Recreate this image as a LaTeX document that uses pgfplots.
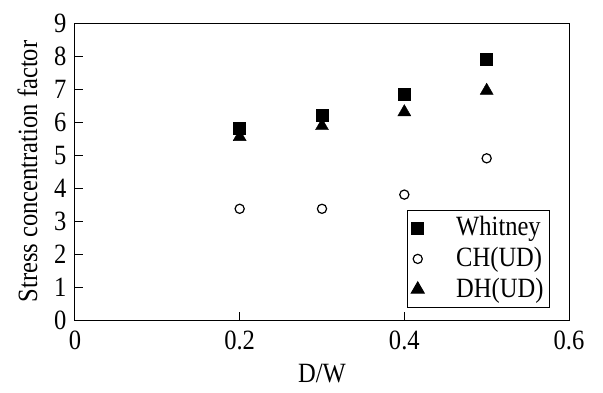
\documentclass[border=0pt]{standalone}
\usepackage{pgfplots}
\pgfplotsset{compat=1.18}
\usepackage{fontspec}
\setmainfont{Liberation Serif}[FakeStretch=0.88]
\begin{document}
\fontsize{28}{30}\selectfont
\begin{tikzpicture}
\begin{axis}[
  name=ax,
  at={(0,0)}, anchor=south west,
  scale only axis,
  width=494bp, height=297bp,
  xmin=0, xmax=0.6, ymin=0, ymax=9,
  xtick={0,0.2,0.4,0.6},
  xticklabels={0,0.2,0.4,0.6},
  ytick={0,1,...,9},
  xtick pos=bottom, ytick pos=left,
  tick align=inside,
  major tick length=8bp,
  axis line style={line width=1bp},
  every tick/.style={line width=1bp, black},
  tick label style={font=\fontsize{28}{30}\selectfont},
  /pgf/number format/assume math mode=true,
  xticklabel style={yshift=-1bp},
  yticklabel style={xshift=1bp},
  xlabel={D/W},
  ylabel={Stress concentration factor},
  label style={font=\fontsize{28}{30}\selectfont},
  xlabel style={yshift=4bp},
  ylabel style={yshift=-2bp},
  legend style={at={(0.9615,0.37)}, anchor=north east, draw=black, line width=1bp,
    font=\fontsize{28}{30}\selectfont, inner xsep=4bp, inner ysep=4bp, row sep=3bp},
  legend cell align=left,
  legend image code/.code={\draw[#1] (0.2cm,0cm) -- plot coordinates {(0.2cm,0cm)};},
]
\addplot[only marks, mark=square*, mark size=6bp, black] coordinates {
 (0.2,5.82) (0.3,6.2) (0.4,6.85) (0.5,7.9)};
\addlegendentry{\hspace{30bp}Whitney\hspace{6bp}}
\addplot[only marks, mark=o, mark size=4.6bp, line width=1.2bp, black, mark options={fill=white}] coordinates {
 (0.2,3.37) (0.3,3.37) (0.4,3.8) (0.5,4.9)};
\addlegendentry{\hspace{30bp}CH(UD)}
\addplot[only marks, mark=triangle*, mark size=7.5bp, black] coordinates {
 (0.2,5.55) (0.3,5.88) (0.4,6.3) (0.5,6.95)};
\addlegendentry{\hspace{30bp}DH(UD)}
\end{axis}
\path (ax.south west) ++(-75bp,-65bp) rectangle ++(603bp,385bp);
\end{tikzpicture}
\end{document}
